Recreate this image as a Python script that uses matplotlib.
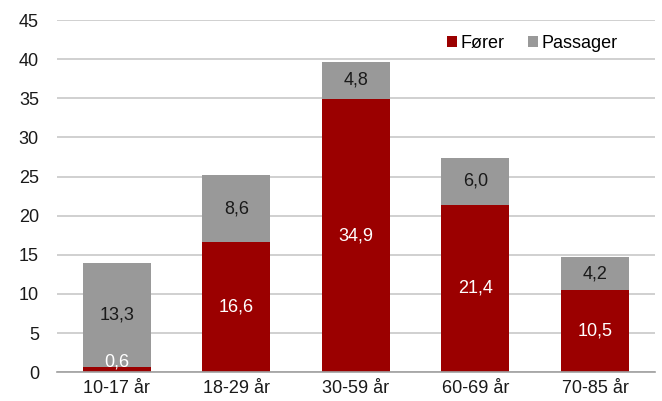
import matplotlib.pyplot as plt
import numpy as np

plt.rcParams['font.family'] = ['Liberation Sans', 'DejaVu Sans']

kategorier = ['10-17 år', '18-29 år', '30-59 år', '60-69 år', '70-85 år']
forer = [0.6, 16.6, 34.9, 21.4, 10.5]
passager = [13.3, 8.6, 4.8, 6.0, 4.2]

rod = '#9b0000'
gra = '#999999'

fig = plt.figure(figsize=(6.62, 4.01), dpi=100)
ax = fig.add_axes([0.086, 0.072, 0.903, 0.878])

x = np.arange(len(kategorier))
b1 = ax.bar(x, forer, width=0.57, color=rod, label='Fører', zorder=2)
b2 = ax.bar(x, passager, width=0.57, bottom=forer, color=gra, label='Passager', zorder=2)

# verdier i stolpene
for i in range(len(x)):
    yf = forer[i] / 2 if forer[i] > 3 else 1.3
    ax.text(x[i], yf, f'{forer[i]:.1f}'.replace('.', ','), ha='center', va='center',
            color='white', fontsize=13)
    yp = forer[i] + passager[i] / 2
    ax.text(x[i], yp, f'{passager[i]:.1f}'.replace('.', ','), ha='center', va='center',
            color='#1a1a1a', fontsize=13)

ax.set_xlim(-0.5, 4.5)
ax.set_ylim(0, 45)
ax.set_yticks(range(0, 46, 5))
ax.set_xticks(x)
ax.set_xticklabels(kategorier)
ax.tick_params(axis='both', length=0, labelsize=13, colors='#1a1a1a')
ax.tick_params(axis='y', pad=13)
ax.tick_params(axis='x', pad=6)
ax.grid(axis='y', color='#c8c8c8', linewidth=1.2, zorder=0)
for s in ['top', 'right', 'left']:
    ax.spines[s].set_visible(False)
ax.spines['bottom'].set_color('#a0a0a0')
ax.spines['bottom'].set_linewidth(1.2)

ax.legend(loc='upper right', bbox_to_anchor=(0.965, 1.005), ncol=2, frameon=False,
          fontsize=13, handlelength=0.55, handleheight=0.55, handletextpad=0.2,
          columnspacing=1.3)

plt.savefig('out.png', dpi=100)
